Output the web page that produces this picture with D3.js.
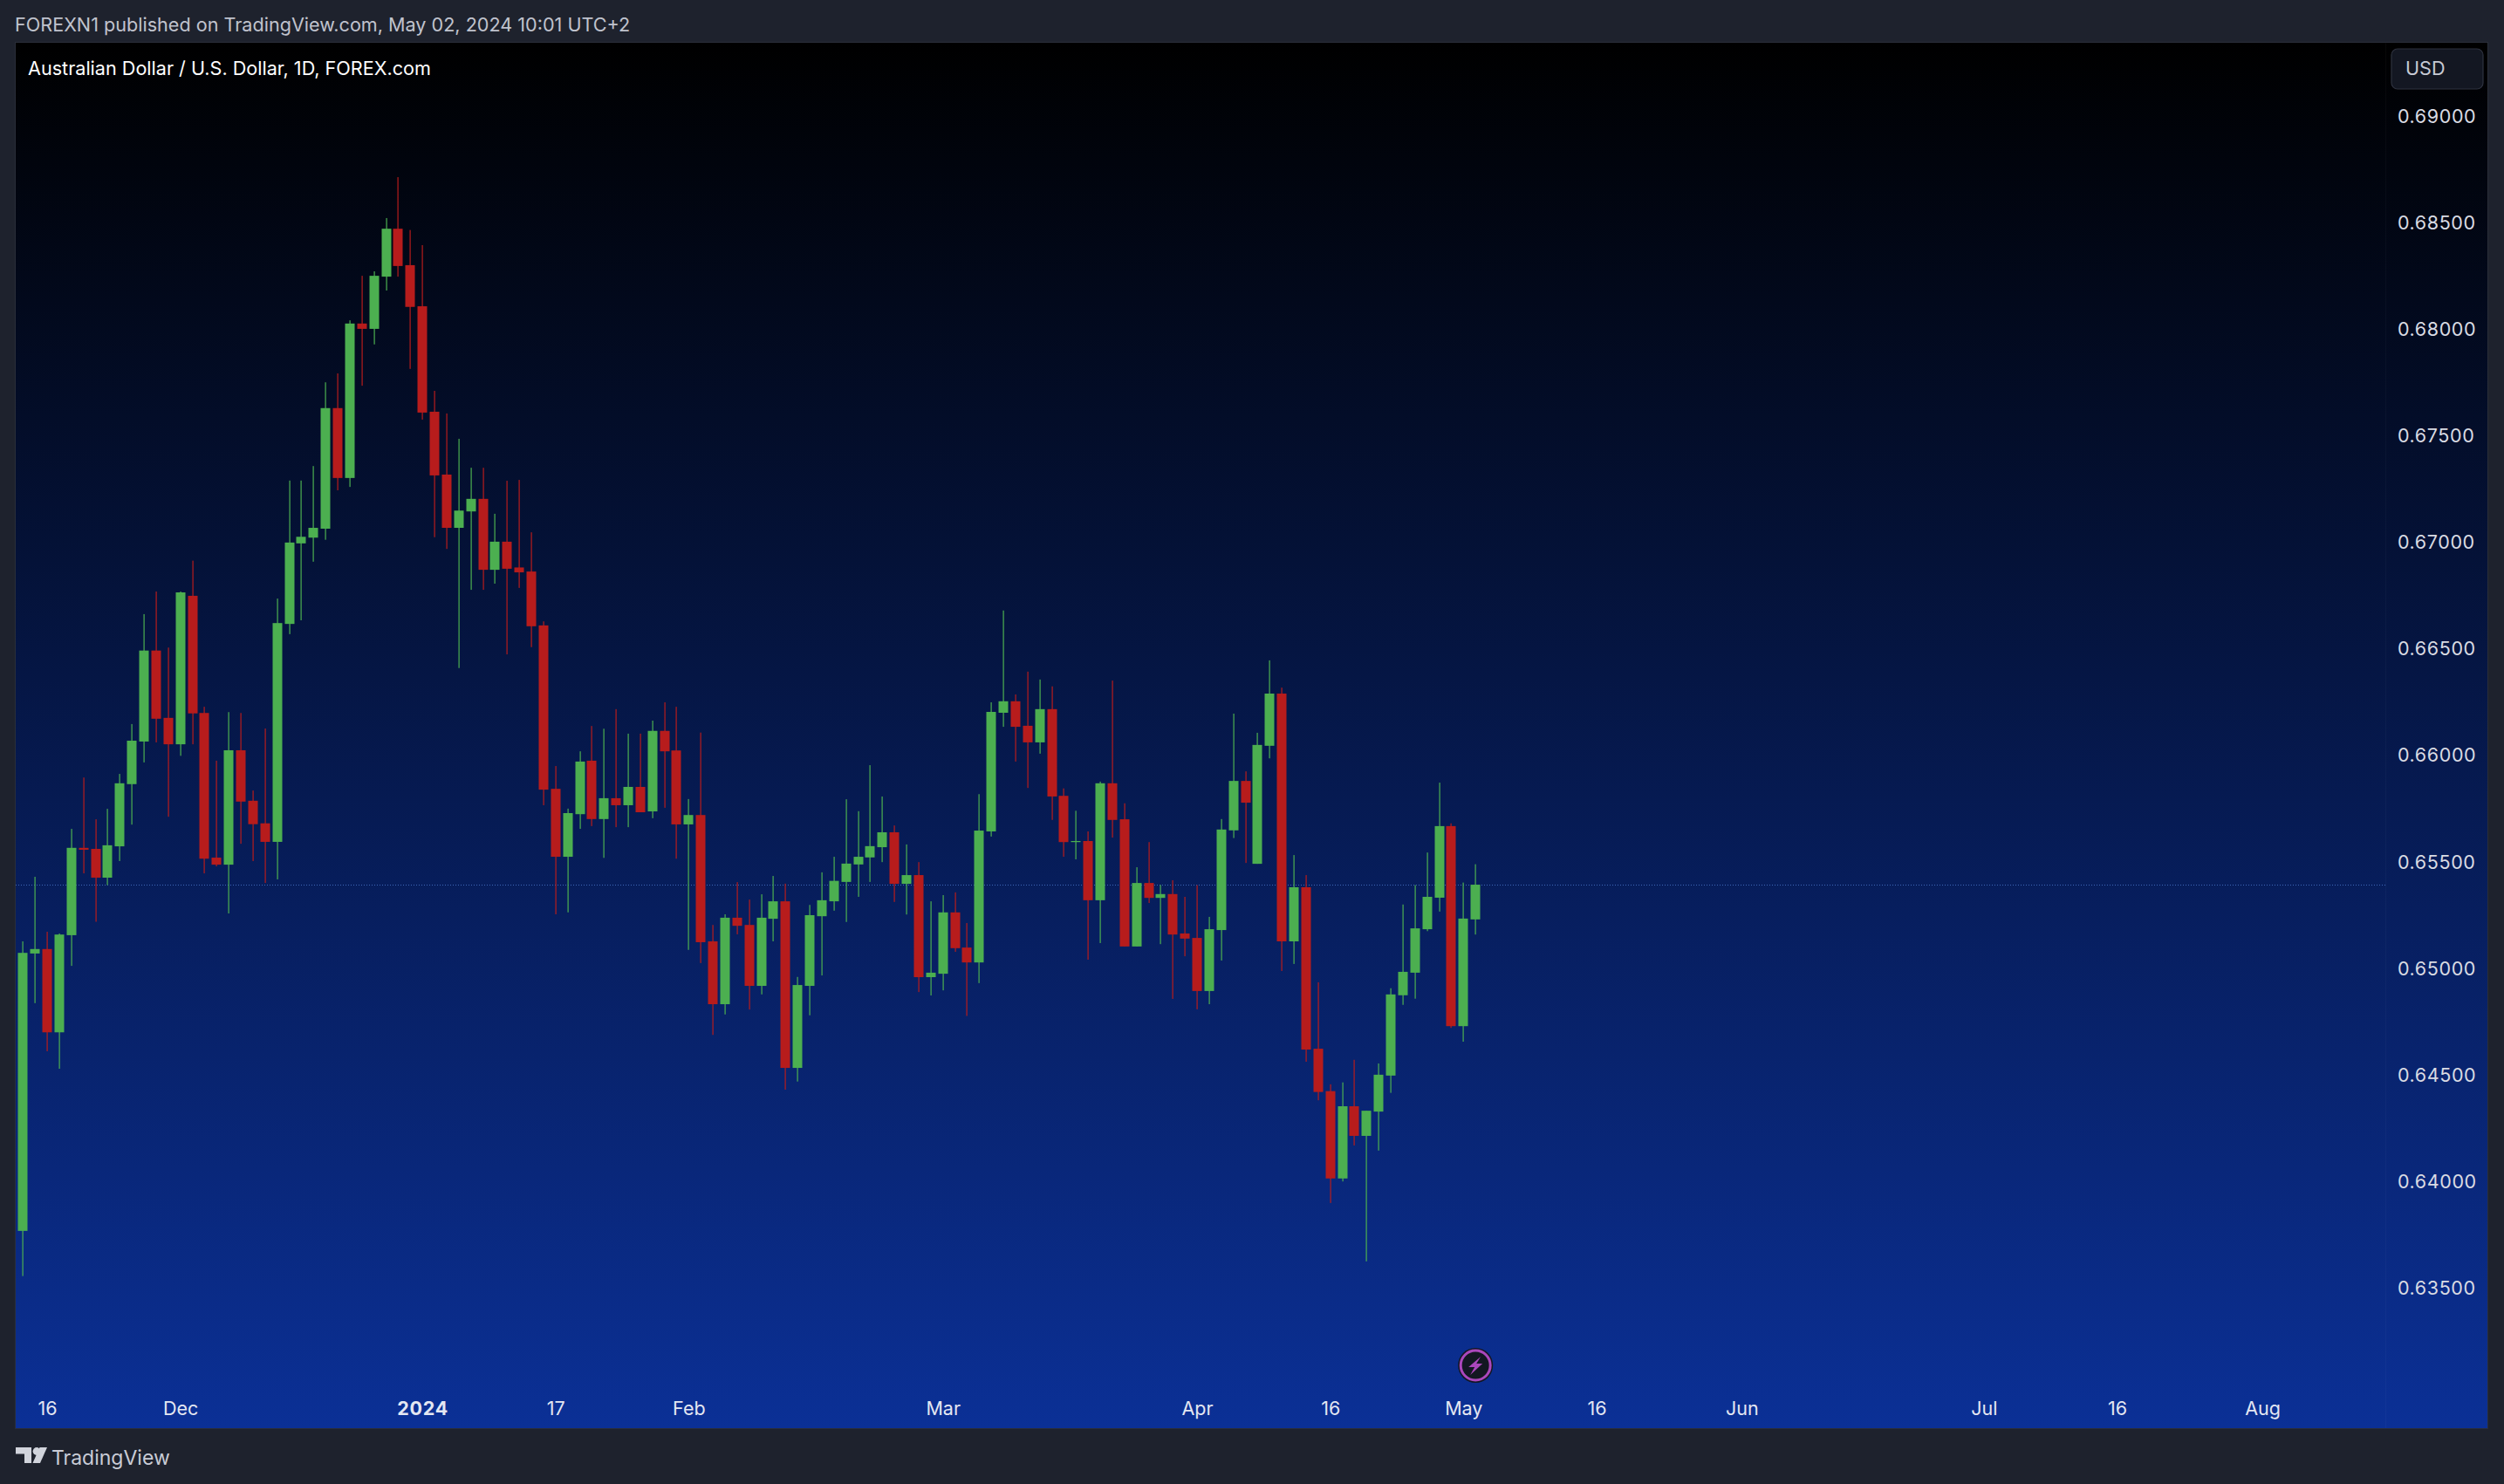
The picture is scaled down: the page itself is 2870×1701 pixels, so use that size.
<!DOCTYPE html>
<html>
<head>
<meta charset="utf-8">
<script src="https://cdn.jsdelivr.net/npm/d3@7"></script>
<style>
html,body{margin:0;padding:0;background:#1e222d;overflow:hidden}
svg{display:block}
text{font-family:Inter,"Noto Sans",sans-serif}
.axis path,.axis line{display:none}
</style>
</head>
<body>
<svg id="c" width="2870" height="1701"></svg>
<script>
const opens=[0.63763,0.65065,0.65086,0.64695,0.65151,0.65561,0.65556,0.65421,0.65568,0.65860,0.66060,0.66487,0.66171,0.66047,0.66744,0.66194,0.65515,0.65482,0.66019,0.65782,0.65676,0.65589,0.66612,0.66990,0.67017,0.67059,0.67625,0.67297,0.68022,0.67997,0.68242,0.68467,0.68296,0.68103,0.67608,0.67313,0.67063,0.67140,0.67199,0.66866,0.66998,0.66877,0.66858,0.66605,0.65838,0.65519,0.65719,0.65970,0.65696,0.65794,0.65761,0.65847,0.65732,0.66110,0.66018,0.65671,0.65715,0.65122,0.64827,0.65233,0.65199,0.64913,0.65228,0.65310,0.64528,0.64913,0.65240,0.65310,0.65401,0.65483,0.65516,0.65564,0.65634,0.65392,0.65433,0.64954,0.64970,0.65258,0.65093,0.65023,0.65638,0.66195,0.66249,0.66134,0.66056,0.66212,0.65805,0.65588,0.65593,0.65315,0.65864,0.65695,0.65098,0.65396,0.65326,0.65344,0.65159,0.65138,0.64889,0.65175,0.65643,0.65875,0.65486,0.66040,0.66285,0.65122,0.65376,0.64618,0.64419,0.64009,0.64348,0.64209,0.64323,0.64492,0.64869,0.64975,0.65179,0.65327,0.65663,0.64724,0.65225];
const highs=[0.65122,0.65425,0.65167,0.65159,0.65650,0.65891,0.65695,0.65744,0.65908,0.66142,0.66658,0.66764,0.66501,0.66764,0.66909,0.66223,0.65970,0.66198,0.66194,0.65830,0.66121,0.66731,0.67285,0.67285,0.67353,0.67746,0.67788,0.68037,0.68246,0.68267,0.68517,0.68709,0.68461,0.68390,0.67706,0.67600,0.67481,0.67345,0.67345,0.67129,0.67284,0.67288,0.67042,0.66624,0.65945,0.65745,0.66014,0.66133,0.66120,0.66212,0.66097,0.66097,0.66158,0.66244,0.66223,0.65790,0.66102,0.65199,0.65249,0.65400,0.65318,0.65343,0.65429,0.65393,0.64955,0.65293,0.65446,0.65519,0.65789,0.65733,0.65949,0.65802,0.65666,0.65577,0.65494,0.65310,0.65339,0.65352,0.65208,0.65813,0.66244,0.66675,0.66281,0.66388,0.66351,0.66319,0.65840,0.65735,0.65638,0.65872,0.66346,0.65770,0.65470,0.65588,0.65387,0.65409,0.65331,0.65386,0.65237,0.65696,0.66191,0.65920,0.66101,0.66441,0.66313,0.65527,0.65433,0.64930,0.64451,0.64460,0.64566,0.64327,0.64549,0.64902,0.65295,0.65386,0.65539,0.65867,0.65676,0.65398,0.65484];
const lows=[0.63551,0.64832,0.64606,0.64524,0.65007,0.65441,0.65214,0.65386,0.65499,0.65670,0.65962,0.66056,0.65707,0.65993,0.66047,0.65441,0.65474,0.65253,0.65580,0.65499,0.65396,0.65413,0.66564,0.66629,0.66904,0.67007,0.67239,0.67255,0.67730,0.67924,0.68177,0.68242,0.67809,0.67571,0.67019,0.66964,0.66405,0.66772,0.66772,0.66801,0.66469,0.66781,0.66503,0.65761,0.65249,0.65258,0.65650,0.65663,0.65514,0.65658,0.65658,0.65728,0.65700,0.65749,0.65510,0.65082,0.65020,0.64683,0.64779,0.65155,0.64802,0.64873,0.65122,0.64426,0.64464,0.64775,0.64962,0.65266,0.65213,0.65331,0.65401,0.65494,0.65307,0.65248,0.64884,0.64868,0.64892,0.65073,0.64772,0.64926,0.65614,0.66129,0.65966,0.65842,0.66003,0.65692,0.65519,0.65507,0.65036,0.65114,0.65609,0.65098,0.65098,0.65302,0.65109,0.64852,0.65052,0.64803,0.64827,0.65032,0.65607,0.65490,0.65486,0.65981,0.64983,0.65016,0.64557,0.64376,0.63894,0.63995,0.64164,0.63620,0.64140,0.64411,0.64824,0.64853,0.65170,0.65262,0.64716,0.64651,0.65154];
const closes=[0.65068,0.65086,0.64695,0.65154,0.65561,0.65552,0.65421,0.65573,0.65864,0.66064,0.66487,0.66167,0.66047,0.66760,0.66192,0.65510,0.65482,0.66019,0.65778,0.65672,0.65589,0.66616,0.66994,0.67021,0.67063,0.67625,0.67297,0.68022,0.67997,0.68246,0.68467,0.68292,0.68100,0.67604,0.67309,0.67063,0.67144,0.67199,0.66866,0.66998,0.66871,0.66854,0.66601,0.65834,0.65519,0.65724,0.65966,0.65696,0.65794,0.65761,0.65847,0.65728,0.66110,0.66014,0.65671,0.65715,0.65118,0.64827,0.65233,0.65195,0.64913,0.65233,0.65310,0.64528,0.64917,0.65245,0.65315,0.65406,0.65487,0.65519,0.65569,0.65634,0.65392,0.65433,0.64954,0.64975,0.65258,0.65090,0.65023,0.65642,0.66199,0.66249,0.66129,0.66056,0.66212,0.65802,0.65588,0.65593,0.65315,0.65864,0.65692,0.65098,0.65396,0.65326,0.65344,0.65154,0.65135,0.64889,0.65179,0.65647,0.65875,0.65773,0.66044,0.66285,0.65122,0.65376,0.64614,0.64415,0.64009,0.64348,0.64209,0.64327,0.64496,0.64873,0.64979,0.65183,0.65331,0.65663,0.64724,0.65229,0.65388];
const priceTicks=[0.69,0.685,0.68,0.675,0.67,0.665,0.66,0.655,0.65,0.645,0.64,0.635];
const timeTickIndex=[2,13,33,44,55,76,97,108,119,130,142,162,173,185];
const timeTickLabels=["16","Dec","2024","17","Feb","Mar","Apr","16","May","16","Jun","Jul","16","Aug"];
const boldTimeTicks=["2024"];
const lastPrice=0.65388;
const headerText="FOREXN1 published on TradingView.com, May 02, 2024 10:01 UTC+2";
const titleText="Australian Dollar / U.S. Dollar, 1D, FOREX.com";
const currencyText="USD";

const W=2870,H=1701;
const plot={l:18,t:49,r:2851,b:1637,axis:2734};
const svg=d3.select("#c");
const x=d3.scaleLinear().domain([0,185]).range([26.3,2593]);
const y=d3.scaleLinear().domain([0.635,0.69]).range([1475.1,132]);

const defs=svg.append("defs");
const grad=defs.append("linearGradient").attr("id","bg").attr("x1",0).attr("x2",0).attr("y1",0).attr("y2",1);
grad.append("stop").attr("offset",0).attr("stop-color","#000000");
grad.append("stop").attr("offset",1).attr("stop-color","#0b3096");
defs.append("clipPath").attr("id","clip").append("rect").attr("x",plot.l).attr("y",plot.t).attr("width",plot.r-plot.l).attr("height",plot.b-plot.t);

svg.append("rect").attr("width",W).attr("height",H).attr("fill","#1e222d");
svg.append("rect").attr("x",plot.l-1).attr("y",plot.t-1).attr("width",plot.r-plot.l+2).attr("height",plot.b-plot.t+2).attr("fill","#2a2e39");
svg.append("rect").attr("x",plot.l).attr("y",plot.t).attr("width",plot.r-plot.l).attr("height",plot.b-plot.t).attr("fill","url(#bg)");
svg.append("line").attr("x1",plot.axis+.5).attr("x2",plot.axis+.5).attr("y1",plot.t).attr("y2",plot.b).attr("stroke","#ffffff").attr("stroke-opacity",0.03);

// last price line
svg.append("line").attr("x1",plot.l).attr("x2",plot.axis)
  .attr("y1",Math.round(y(lastPrice))+.5).attr("y2",Math.round(y(lastPrice))+.5)
  .attr("stroke","#3f69b8").attr("stroke-width",1).attr("stroke-dasharray","1 2");

const rows=opens.map((o,i)=>({i,o,h:highs[i],l:lows[i],c:closes[i]}));
const gC=svg.append("g").attr("clip-path","url(#clip)");
const green="#4caf50",red="#b71c1c";
const col=d=>d.c>=d.o?green:red;
gC.selectAll("rect.w").data(rows).join("rect").attr("class","w")
  .attr("x",d=>Math.round(x(d.i))-.5).attr("width",1.2)
  .attr("y",d=>y(d.h)).attr("height",d=>y(d.l)-y(d.h)).attr("fill",col);
gC.selectAll("rect.b").data(rows).join("rect").attr("class","b")
  .attr("x",d=>Math.round(x(d.i))-5.5).attr("width",11)
  .attr("y",d=>y(Math.max(d.o,d.c))).attr("height",d=>Math.max(1,y(Math.min(d.o,d.c))-y(Math.max(d.o,d.c)))).attr("fill",col);

// axes
const yAxis=d3.axisRight(y).tickValues(priceTicks).tickFormat(d3.format(".5f")).tickSize(0).tickPadding(0);
const ga=svg.append("g").attr("class","axis").attr("transform",`translate(2748,1.5)`).call(yAxis);
ga.selectAll("text").attr("font-size",21.5).attr("fill","#d9dbe3").attr("letter-spacing","0.6px").attr("font-family","Inter");
const xAxis=d3.axisBottom(x).tickValues(timeTickIndex).tickFormat((d,i)=>timeTickLabels[i]).tickSize(0).tickPadding(0);
const gx=svg.append("g").attr("class","axis").attr("transform",`translate(0,1607)`).call(xAxis);
gx.selectAll("text").attr("font-size",21.5).attr("fill","#e4e7f2").attr("font-family","Inter")
  .attr("font-weight",(d,i)=>boldTimeTicks.includes(timeTickLabels[i])?700:400)
  .attr("letter-spacing",(d,i)=>boldTimeTicks.includes(timeTickLabels[i])?"0.8px":"0");

// texts
svg.append("text").attr("x",17).attr("y",35.5).attr("font-size",21.6).attr("fill","#c0c3cd").text(headerText);
svg.append("text").attr("x",32).attr("y",85.5).attr("font-size",21.6).attr("fill","#ffffff").text(titleText);

// currency box
svg.append("rect").attr("x",2741).attr("y",56).attr("width",105).attr("height",46).attr("rx",7)
  .attr("fill","#131722").attr("stroke","#2e323f").attr("stroke-width",1.2);
svg.append("text").attr("x",2757).attr("y",85.5).attr("font-size",21.6).attr("fill","#c7cad4").text(currencyText);

// flash icon
const ic=svg.append("g").attr("transform",`translate(${x(120)},1565)`);
ic.append("circle").attr("r",20).attr("fill","#131722");
ic.append("circle").attr("r",17).attr("fill","none").attr("stroke","#ab47bc").attr("stroke-width",3);
ic.append("path").attr("d","M6 -10 L-8 2 H-1 L-6 11 L8 -2 H1 Z").attr("fill","#ab47bc");

// logo
const lg=svg.append("g").attr("fill","#d1d4dc");
lg.append("path").attr("d","M18 1659H36V1677H28V1666.5H18Z");
lg.append("circle").attr("cx",42).attr("cy",1663.5).attr("r",4.4);
lg.append("path").attr("d","M54 1659L46 1677H37.5L45.5 1659Z");
svg.append("text").attr("x",59).attr("y",1678.5).attr("font-size",23).attr("fill","#c9ccd6").text("TradingView");
</script>
</body>
</html>
